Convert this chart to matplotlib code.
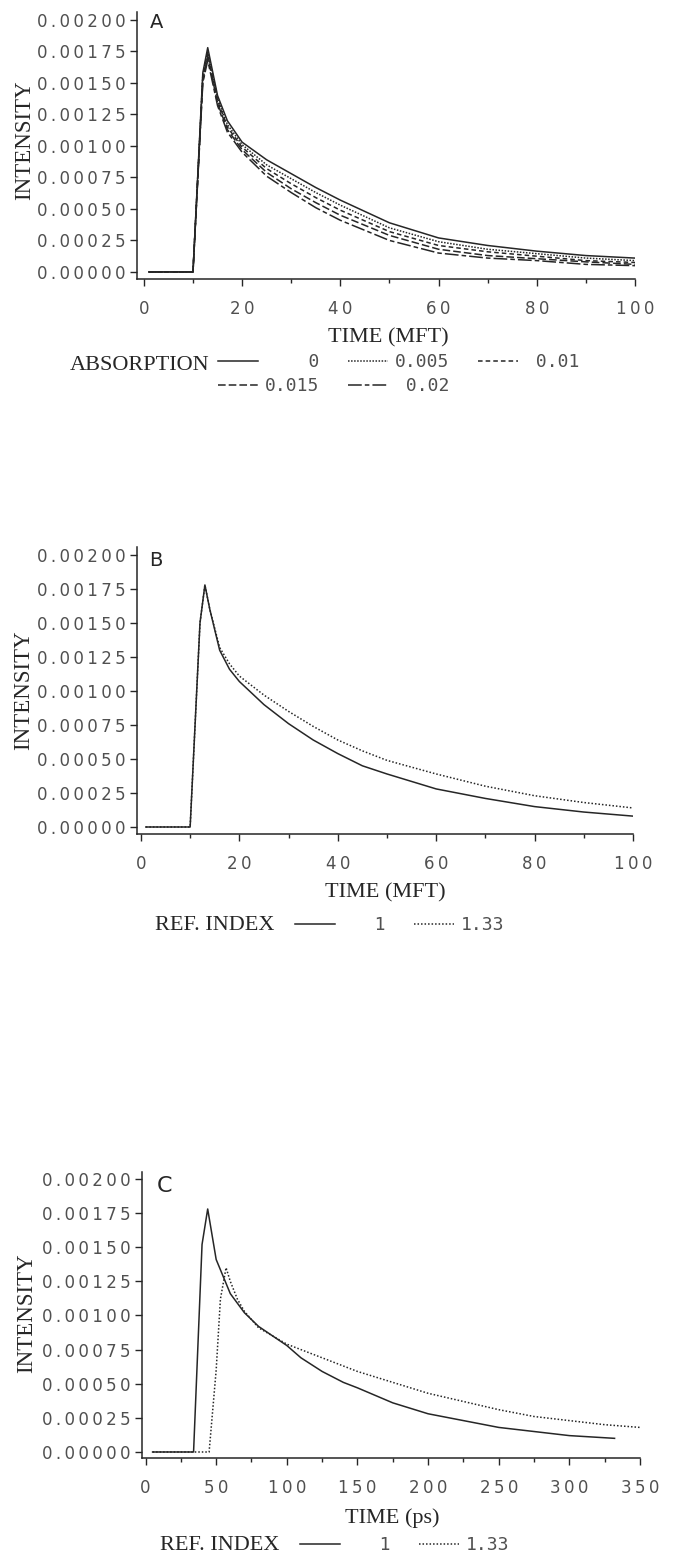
import matplotlib
matplotlib.use("Agg")
import matplotlib.pyplot as plt
from matplotlib.ticker import MultipleLocator, FuncFormatter

W, H = 674, 1558

# ---- panel A: absorption series (time in MFT) ----
time_a = [1, 10, 12, 13, 15, 17, 20, 25, 30, 35, 40, 50, 60, 70, 80, 90, 100]
abs_0 = [0, 0, 0.00158, 0.00178, 0.00140, 0.00120, 0.00103, 0.00089, 0.00078, 0.00067,
         0.00057, 0.00039, 0.00027, 0.00021, 0.000165, 0.00013, 0.00011]
abs_005 = [0, 0, 0.00156, 0.00175, 0.00138, 0.00117, 0.00101, 0.00085, 0.00074, 0.00063,
           0.00053, 0.00035, 0.00024, 0.00018, 0.000145, 0.00011, 0.00009]
abs_01 = [0, 0, 0.00154, 0.00173, 0.00136, 0.00115, 0.00099, 0.00082, 0.00070, 0.00059,
          0.00049, 0.00032, 0.00021, 0.00016, 0.000125, 0.00009, 0.000075]
abs_015 = [0, 0, 0.00152, 0.00171, 0.00134, 0.00113, 0.00097, 0.00079, 0.00066, 0.00055,
           0.00045, 0.00029, 0.00018, 0.00013, 0.000105, 0.00008, 0.00006]
abs_02 = [0, 0, 0.00150, 0.00168, 0.00132, 0.00111, 0.00095, 0.00076, 0.00063, 0.00051,
          0.00041, 0.00025, 0.00015, 0.00011, 0.00009, 0.00006, 0.00005]
abs_labels = ["    0", "0.005", " 0.01", "0.015", " 0.02"]

# ---- panel B: refractive index (time in MFT) ----
time_b = [1, 10, 12, 13, 14, 16, 18, 20, 25, 30, 35, 40, 45, 50, 60, 70, 80, 90, 100]
ref_b_1 = [0, 0, 0.0015, 0.00178, 0.00160, 0.00130, 0.00116, 0.00107, 0.00090, 0.00076,
           0.00064, 0.00054, 0.00045, 0.00039, 0.00028, 0.00021, 0.00015, 0.00011, 0.00008]
ref_b_133 = [0, 0, 0.0015, 0.00178, 0.00160, 0.00132, 0.00120, 0.00111, 0.00097, 0.00085,
             0.00074, 0.00064, 0.00056, 0.00049, 0.00039, 0.00030, 0.00023, 0.00018, 0.00014]

# ---- panel C: refractive index (time in ps) ----
time_c1 = [5, 34, 40, 44, 50, 60, 70, 80, 90, 100, 110, 125, 140, 150, 175, 200, 225, 250,
           275, 300, 332]
ref_c_1 = [0, 0, 0.00152, 0.00178, 0.00141, 0.00116, 0.00102, 0.00092, 0.00085, 0.00078,
           0.00069, 0.00059, 0.00051, 0.00047, 0.00036, 0.00028, 0.00023, 0.00018,
           0.00015, 0.00012, 0.00010]
time_c2 = [5, 45, 50, 53, 57, 60, 65, 70, 80, 100, 125, 150, 175, 200, 225, 250, 275, 300, 325, 350]
ref_c_133 = [0, 0, 0.0006, 0.00112, 0.00135, 0.00125, 0.00112, 0.00103, 0.00091, 0.00079,
             0.00069, 0.00059, 0.00051, 0.00043, 0.00037, 0.00031, 0.00026, 0.00023, 0.00020, 0.00018]
ref_labels = ["   1", "1.33"]

y_ticks = [0, 0.00025, 0.0005, 0.00075, 0.001, 0.00125, 0.0015, 0.00175, 0.002]

INK = "#262626"
GREY = "#505050"
SERIF = "Liberation Serif"
MONO = "DejaVu Sans Mono"
TICK_SIZE = 12

styles_a = ["-", (0, (1, 1)), (0, (3, 2)), (0, (5, 2)), (0, (9, 2, 3, 2))]
dotted = (0, (1, 1.3))


def spaced(s):
    # plotter-style letter spacing
    return "\u2009".join(s)


def add_axes_px(fig, left, top, right, bottom):
    return fig.add_axes([left / W, 1 - bottom / H, (right - left) / W, (bottom - top) / H])


def style_axes(ax, xlim, ylim, major, minor):
    ax.set_xlim(*xlim)
    ax.set_ylim(*ylim)
    for s in ["top", "right"]:
        ax.spines[s].set_visible(False)
    for s in ["left", "bottom"]:
        ax.spines[s].set_color(INK)
        ax.spines[s].set_linewidth(1.1)
    ax.xaxis.set_major_locator(MultipleLocator(major))
    ax.xaxis.set_minor_locator(MultipleLocator(minor))
    ax.set_yticks(y_ticks)
    ax.yaxis.set_major_formatter(FuncFormatter(lambda v, p: spaced("%.5f" % v)))
    ax.xaxis.set_major_formatter(FuncFormatter(lambda v, p: spaced("%d" % v)))
    ax.tick_params(which="both", direction="out", colors=INK, labelcolor=GREY,
                   labelsize=TICK_SIZE, width=1)
    ax.tick_params(which="major", length=5)
    ax.tick_params(which="minor", length=3)
    ax.tick_params(axis="x", pad=10)
    ax.tick_params(axis="y", pad=3)
    for lab in ax.get_xticklabels() + ax.get_yticklabels():
        lab.set_family("DejaVu Sans")


def legend_px(handles, labels, ncol, x, y, loc):
    leg = fig.legend(handles, labels, ncol=ncol, frameon=False, loc=loc,
                     bbox_to_anchor=(x / W, 1 - y / H), borderpad=0, borderaxespad=0,
                     handlelength=2.2, handletextpad=0.4, columnspacing=1.6,
                     labelspacing=0.35, prop={"family": MONO, "size": 13})
    for t in leg.get_texts():
        t.set_color(GREY)
    return leg


fig = plt.figure(figsize=(W / 100, H / 100), dpi=100)

# ---------------- A ----------------
ax = add_axes_px(fig, 137, 12, 635, 279)
series_a = [abs_0, abs_005, abs_01, abs_015, abs_02]
handles_a = []
for vals, ls in zip(series_a, styles_a):
    h, = ax.plot(time_a, vals, color=INK, lw=1.1, linestyle=ls)
    handles_a.append(h)
style_axes(ax, (-1.4, 100), (-0.000056, 0.002063), 20, 10)
ax.text(0.025, 0.995, "A", transform=ax.transAxes, fontsize=14, color=INK,
        family="DejaVu Sans", va="top", ha="left")
fig.text(25 / W, 1 - 140 / H, "INTENSITY", rotation=90, family=SERIF, fontsize=16.5,
         color=INK, ha="center", va="center")
fig.text(388 / W, 1 - 338 / H, "TIME (MFT)", family=SERIF, fontsize=16, color=INK,
         ha="center", va="center")
fig.text(70 / W, 1 - 365 / H, "ABSORPTION", family=SERIF, fontsize=16, color=INK,
         ha="left", va="center")
order = [0, 3, 1, 4, 2]
legend_px([handles_a[i] for i in order], [abs_labels[i] for i in order], 3, 218, 353,
          "upper left")

# ---------------- B ----------------
ax = add_axes_px(fig, 137, 547, 633, 834)
hb1, = ax.plot(time_b, ref_b_1, color=INK, lw=1.1, linestyle="-")
hb2, = ax.plot(time_b, ref_b_133, color=INK, lw=1.1, linestyle=dotted)
style_axes(ax, (-0.8, 100), (-0.0000515, 0.002059), 20, 10)
ax.text(0.025, 0.985, "B", transform=ax.transAxes, fontsize=14, color=INK,
        family="DejaVu Sans", va="top", ha="left")
fig.text(24 / W, 1 - 690 / H, "INTENSITY", rotation=90, family=SERIF, fontsize=16.5,
         color=INK, ha="center", va="center")
fig.text(385 / W, 1 - 893 / H, "TIME (MFT)", family=SERIF, fontsize=16, color=INK,
         ha="center", va="center")
fig.text(155 / W, 1 - 925 / H, "REF. INDEX", family=SERIF, fontsize=16, color=INK,
         ha="left", va="center")
legend_px([hb1, hb2], ref_labels, 2, 295, 925, "center left")

# ---------------- C ----------------
ax = add_axes_px(fig, 142, 1172, 640, 1458)
hc1, = ax.plot(time_c1, ref_c_1, color=INK, lw=1.1, linestyle="-")
hc2, = ax.plot(time_c2, ref_c_133, color=INK, lw=1.1, linestyle=dotted)
style_axes(ax, (-2.5, 350), (-0.000044, 0.002051), 50, 25)
ax.text(0.03, 0.985, "C", transform=ax.transAxes, fontsize=16, color=INK,
        family="DejaVu Sans", va="top", ha="left")
fig.text(27 / W, 1 - 1313 / H, "INTENSITY", rotation=90, family=SERIF, fontsize=16.5,
         color=INK, ha="center", va="center")
fig.text(392 / W, 1 - 1518 / H, "TIME (ps)", family=SERIF, fontsize=16, color=INK,
         ha="center", va="center")
fig.text(160 / W, 1 - 1545 / H, "REF. INDEX", family=SERIF, fontsize=16, color=INK,
         ha="left", va="center")
legend_px([hc1, hc2], ref_labels, 2, 300, 1545, "center left")

fig.savefig("out.png", dpi=100, facecolor="white")
